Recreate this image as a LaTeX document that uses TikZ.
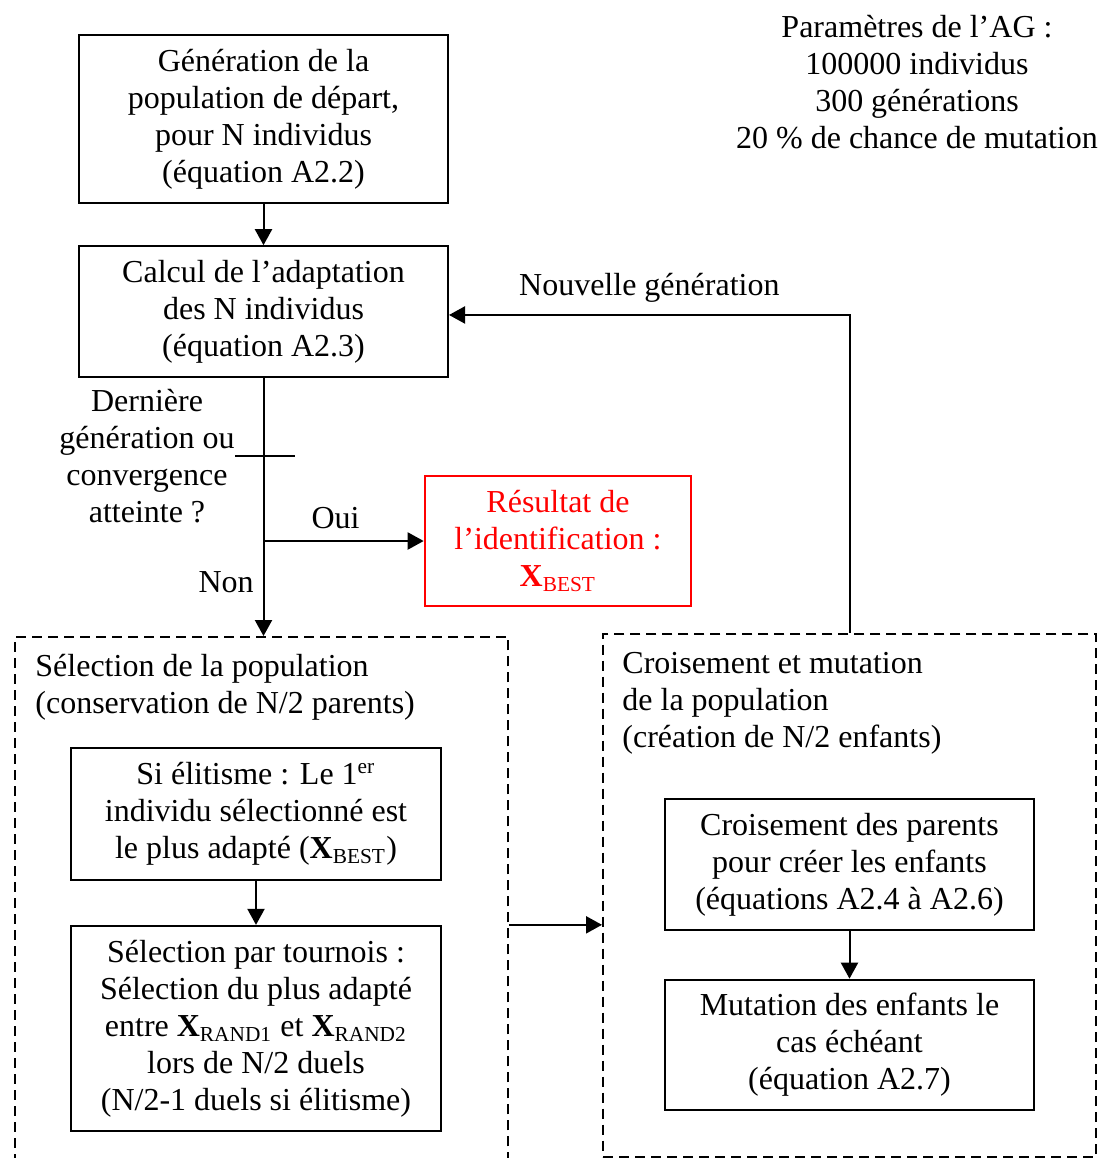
\documentclass[tikz,border=0pt]{standalone}
\usepackage{fontspec}
\setmainfont{Liberation Serif}
\usetikzlibrary{arrows.meta}
\tikzset{
  every node/.style={font=\fontsize{12}{13.9}\selectfont},
  box/.style={draw,rectangle,line width=0.75pt,align=center,inner sep=2pt},
  grp/.style={draw,rectangle,line width=0.75pt,dash pattern=on 3.8pt off 2.2pt,anchor=north west},
  arr/.style={line width=0.75pt,-{Triangle[length=6pt,width=6.4pt]}}
}
\begin{document}
\begin{tikzpicture}[x=0.375pt,y=-0.375pt]
\clip (0,0) rectangle (1101,1158);
\useasboundingbox (0,0) rectangle (1101,1158);

\node[box,minimum width=138.4pt,minimum height=63pt] (gen) at (263.5,119) {G\'en\'eration de la\\population de d\'epart,\\pour N individus\\(\'equation A2.2)};
\node[box,minimum width=138.4pt,minimum height=49pt] (calc) at (263.5,311.5) {Calcul de l'adaptation\\des N individus\\(\'equation A2.3)};
\draw[arr] (gen) -- (calc);

\node[align=center] (quest) at (147,456) {Derni\`ere\\g\'en\'eration ou\\convergence\\atteinte ?};
\node[align=center] (param) at (917,82) {Param\`etres de l'AG :\\100000 individus\\300 g\'en\'erations\\20 \% de chance de mutation};

\node[box,draw=red,text=red,minimum width=100pt,minimum height=49pt] (res) at (558,541) {R\'esultat de\\l'identification :\\\textbf{X}\textsubscript{BEST}};

% groupes en pointilles
\node[grp,minimum width=185pt,minimum height=210pt] (selgrp) at (14,636) {};
\node[grp,minimum width=185pt,minimum height=196pt] (crossgrp) at (602,633) {};
\node[anchor=west,align=left] (seltitle) at (26,687) {S\'election de la population\\(conservation de N/2 parents)};
\node[anchor=west,align=left] (crosstitle) at (613,703) {Croisement et mutation\\de la population\\(cr\'eation de N/2 enfants)};

\node[box,minimum width=138.8pt,minimum height=49.5pt] (elite) at (256,814) {Si \'elitisme : Le 1\textsuperscript{er}\\individu s\'electionn\'e est\\le plus adapt\'e (\textbf{X}\textsubscript{BEST})};
\node[box,minimum width=138.8pt,minimum height=77pt] (tourn) at (256,1028.5) {S\'election par tournois :\\S\'election du plus adapt\'e\\entre \textbf{X}\textsubscript{RAND1} et \textbf{X}\textsubscript{RAND2}\\lors de N/2 duels\\(N/2-1 duels si \'elitisme)};
\draw[arr] (elite) -- (tourn);

\node[box,minimum width=138.4pt,minimum height=49pt] (crois) at (849.5,864.5) {Croisement des parents\\pour cr\'eer les enfants\\(\'equations A2.4 \`a A2.6)};
\node[box,minimum width=138.4pt,minimum height=49pt] (mut) at (849.5,1045) {Mutation des enfants le\\cas \'ech\'eant\\(\'equation A2.7)};
\draw[arr] (crois) -- (mut);

% test d'arret
\coordinate (tickl) at (235,456);
\coordinate (tickr) at (295,456);
\draw[line width=0.75pt] (tickl) -- (tickr);
\draw[arr] (calc.south) -- node[pos=0.79,left] {Non} (calc.south |- selgrp.north);
\draw[arr] (calc.south |- res.west) -- node[above=1pt,pos=0.45] {Oui} (res.west);

% boucle
\coordinate (back) at ([yshift=-1.3pt]calc.east);
\draw[arr] (crossgrp.north) |- node[pos=0.75,above=1pt] {Nouvelle g\'en\'eration} (back);
\draw[arr] (tourn.north -| selgrp.east) -- (tourn.north -| crossgrp.west);
\end{tikzpicture}
\end{document}
